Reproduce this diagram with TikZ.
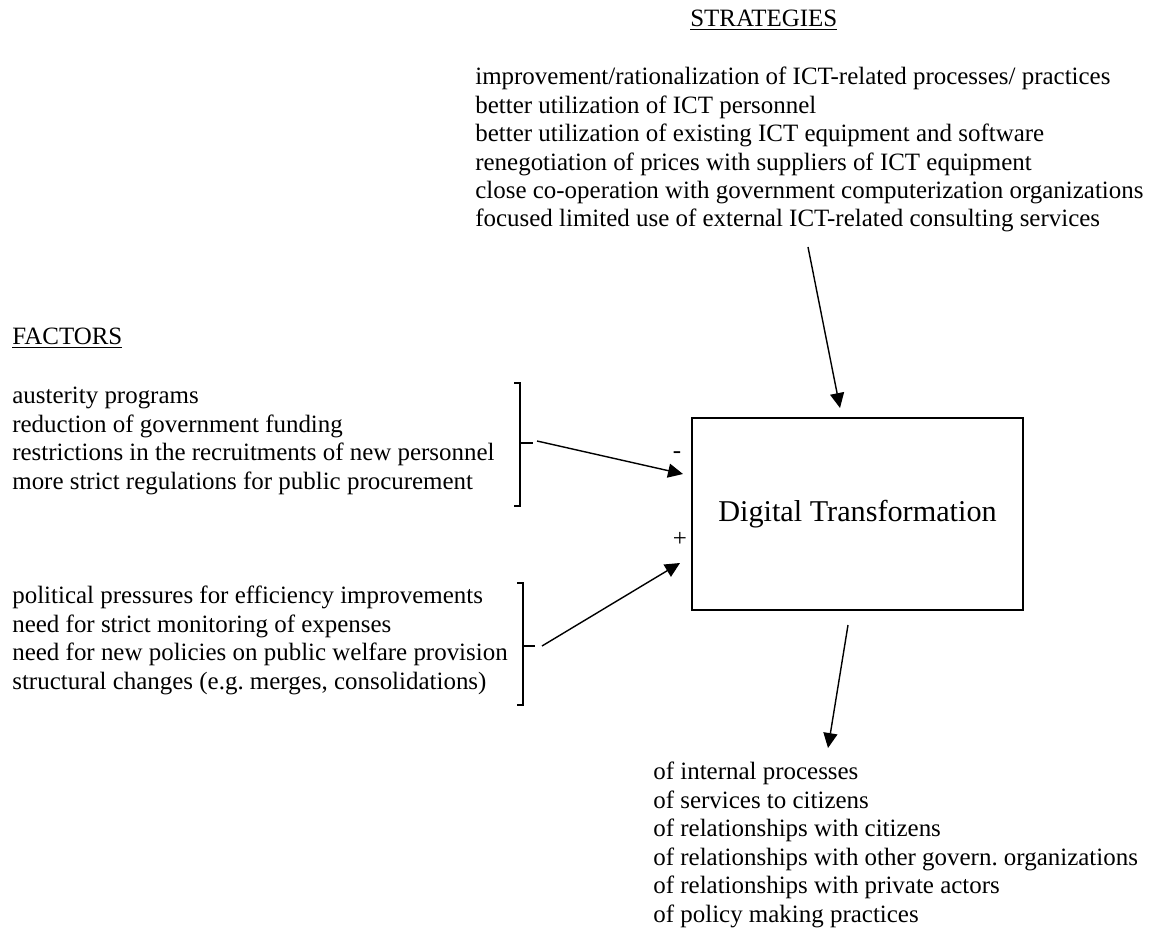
\documentclass[tikz,border=0pt]{standalone}
\usepackage{fontspec}
\setmainfont{Liberation Serif}[Ligatures=NoCommon]
\usetikzlibrary{arrows.meta}
\frenchspacing
\begin{document}
\begin{tikzpicture}[x=0.02cm,y=-0.02cm,
    textblock/.style={anchor=base west,align=left,inner sep=0pt,font=\fontsize{14.2pt}{16.2pt}\selectfont},
    heading/.style={anchor=base west,inner sep=0pt,font=\fontsize{14.2pt}{16.2pt}\selectfont},
    arr/.style={line width=0.8pt,-{Triangle[length=8.5pt,width=8pt]}},
    brk/.style={line width=0.8pt}]
    \useasboundingbox (0,0) rectangle (1151,928);
    % headings
    \node[heading] (strathead) at (690,27) {\underline{STRATEGIES}};
    \node[heading] (facthead)  at (12,345) {\underline{FACTORS}};
    % text blocks (placed by the baseline of their last line)
    \node[textblock] (strat) at (475,227) {improvement/rationalization of ICT-related processes/ practices\\
        better utilization of ICT personnel\\
        better utilization of existing ICT equipment and software\\
        renegotiation of prices with suppliers of ICT equipment\\
        close co-operation with government computerization organizations\\
        focused limited use of external ICT-related consulting services};
    \node[textblock] (factA) at (12,489) {austerity programs\\
        reduction of government funding\\
        restrictions in the recruitments of new personnel\\
        more strict regulations for public procurement};
    \node[textblock] (factB) at (12,689) {political pressures for efficiency improvements\\
        need for strict monitoring of expenses\\
        need for new policies on public welfare provision\\
        structural changes (e.g. merges, consolidations)};
    \node[textblock] (outc) at (653,922) {of internal processes\\
        of services to citizens\\
        of relationships with citizens\\
        of relationships with other govern. organizations\\
        of relationships with private actors\\
        of policy making practices};
    % central box
    \node[shape=rectangle,draw,line width=0.8pt,inner sep=0pt,
          minimum width=6.62cm,minimum height=3.84cm,font=\fontsize{17.2pt}{20pt}\selectfont]
          (dt) at (857.5,514) {Digital Transformation};
    \node[inner sep=0pt,font=\fontsize{14.2pt}{16.2pt}\selectfont] (minus) at (677,455) {-};
    \node[inner sep=0pt,font=\fontsize{14.2pt}{16.2pt}\selectfont] (plus)  at (680,539) {+};
    % brackets
    \coordinate (tickA) at (533,443);
    \coordinate (tickB) at (535,646);
    \draw[brk] (514,383) -- (520,383) -- (520,506) -- (514,506) (520,443) -- (tickA);
    \draw[brk] (517,583) -- (523,583) -- (523,705) -- (517,705) (523,646) -- (tickB);
    % arrows
    \coordinate (outA) at (537,441);
    \coordinate (outB) at (542,646);
    \coordinate (inA)  at (683,474);
    \coordinate (inB)  at (680,563);
    \coordinate (sout) at (808,247);
    \coordinate (sin)  at (840,408);
    \coordinate (dout) at (848,625);
    \coordinate (oin)  at (828,748);
    \draw[arr] (outA) -- (inA);
    \draw[arr] (outB) -- (inB);
    \draw[arr] (sout) -- (sin);
    \draw[arr] (dout) -- (oin);
\end{tikzpicture}
\end{document}
